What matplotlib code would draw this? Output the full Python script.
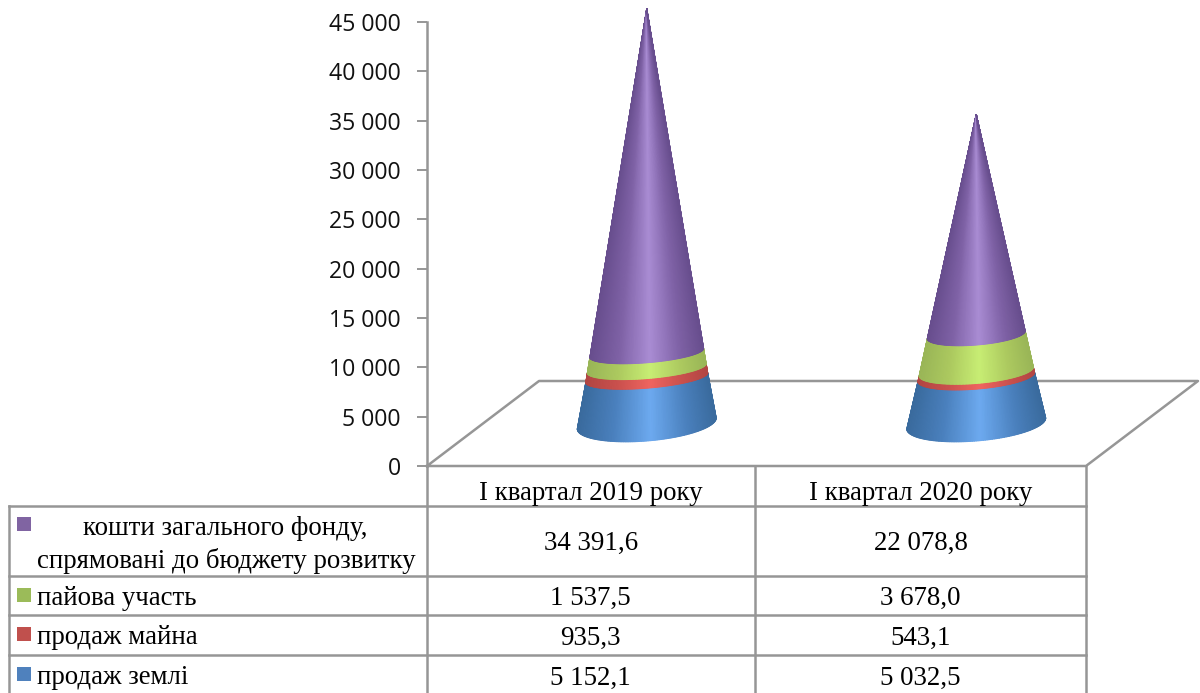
import numpy as np
import matplotlib
matplotlib.use('Agg')
import matplotlib.pyplot as plt
from matplotlib.colors import LinearSegmentedColormap

# values, thousand UAH, bottom of the stack first
periods = ['І квартал 2019 року', 'І квартал 2020 року']
series_names = ['продаж землі', 'продаж майна', 'пайова участь',
                'кошти загального фонду,\nспрямовані до бюджету розвитку']
land = [5152.1, 5032.5]
property_sales = [935.3, 543.1]
share = [1537.5, 3678.0]
general_fund = [34391.6, 22078.8]
value_labels = [['5 152,1', '5 032,5'], ['935,3', '543,1'],
                ['1 537,5', '3 678,0'], ['34 391,6', '22 078,8']]
yticks = [0, 5000, 10000, 15000, 20000, 25000, 30000, 35000, 40000, 45000]
ytick_labels = ['0', '5 000', '10 000', '15 000', '20 000', '25 000',
                '30 000', '35 000', '40 000', '45 000']

series = [land, property_sales, share, general_fund]
swatches = ['#4f81bd', '#c0504d', '#9bbb59', '#8064a2']
# edge, mid and highlight colour of each band
shades = [('#3a6b9e', '#4a80bd', '#6daaf0'),
          ('#b24643', '#c9504d', '#f06560'),
          ('#9ab657', '#acc95f', '#c8ee74'),
          ('#684e8e', '#7f62a6', '#aa8dd4')]

W, H = 1200, 693
GREY = '#969696'
fig = plt.figure(figsize=(W / 100, H / 100), dpi=100)

# plot box in pixels
x0, x1 = 427, 1086
y0, y1 = 466, 22
ax = fig.add_axes([x0 / W, 1 - y0 / H, (x1 - x0) / W, (y0 - y1) / H])
ax.set_xlim(0, 2)
ax.set_ylim(0, 45000)
ax.patch.set_visible(False)
for s in ['top', 'right', 'bottom']:
    ax.spines[s].set_visible(False)
ax.spines['left'].set_color(GREY)
ax.spines['left'].set_linewidth(1.8)
ax.set_xticks([])
ax.set_yticks(yticks)
ax.set_yticklabels(ytick_labels, family='Open Sans', fontsize=16.6, color='#111111')
ax.tick_params(axis='y', length=7, width=1.4, color=GREY, pad=12)

px_x = 2 / (x1 - x0)       # axis units per pixel
px_y = 45000 / (y0 - y1)
depth_x, depth_y = 112 * px_x, 85 * px_y

# floor
fx = [0, depth_x, 2 + depth_x, 2, 0]
fy = [0, depth_y, depth_y, 0, 0]
ax.plot(fx, fy, color=GREY, lw=1.8, clip_on=False, zorder=1)


def cone_points(total, level, theta, seam_b, drop):
    f = 1 - level / total
    u = np.cos(theta)
    x = 69.5 * f * u * px_x
    tilt = 5.5 * f * u
    if level == 0:
        down = 17.5 * np.sin(theta)
        y = tilt - down
    else:
        y = tilt - seam_b * f * np.sin(theta) - drop * f
    return x, level + y * px_y


theta = np.linspace(np.pi, 0, 121)
seam_sizes = [(12, 5.7), (14.5, 3.7)]
for i in range(len(periods)):
    total = sum(s[i] for s in series)
    cx = i + 0.5 + depth_x / 2 - px_x
    base = depth_y / 2
    level = 0
    for s, shade in zip(series, shades):
        top = level + s[i]
        xa, ya = cone_points(total, level, theta, *seam_sizes[i])
        xb, yb = cone_points(total, top, theta, *seam_sizes[i])
        X = np.vstack([xa, xb]) + cx
        Y = np.vstack([ya, yb]) + base
        C = np.vstack([np.cos(theta), np.cos(theta)])
        cmap = LinearSegmentedColormap.from_list(
            'band', [(0, shade[0]), (0.25, shade[1]), (0.53, shade[2]), (0.8, shade[1]), (1, shade[0])])
        ax.pcolormesh(X, Y, C, cmap=cmap, vmin=-1, vmax=1, shading='gouraud',
                      clip_on=False, zorder=3, rasterized=True)
        level = top

# table drawn on a pixel overlay
tab = fig.add_axes([0, 0, 1, 1])
tab.set_xlim(0, W)
tab.set_ylim(H, 0)
tab.axis('off')
tab.patch.set_visible(False)

row_edges = [505.5, 576, 615, 655, 695]
col_edges = [426.5, 755, 1086]
lw = 1.8
tab.plot([x0, x0], [y0, H], color=GREY, lw=lw)
tab.plot([755, 755], [y0, H], color=GREY, lw=lw)
tab.plot([1086, 1086], [y0, H], color=GREY, lw=lw)
tab.plot([8.5, 8.5], [505.5, H], color=GREY, lw=lw)
for r in row_edges[:-1]:
    tab.plot([8.5, 1086], [r, r], color=GREY, lw=lw)

serif = dict(family='Liberation Serif', fontsize=19.35, color='black')
for c, name in enumerate(periods):
    tab.text((col_edges[c] + col_edges[c + 1]) / 2, 493, name, ha='center', va='center', **serif)

# rows run top to bottom, the reverse of the stack
for r, k in enumerate(range(len(series) - 1, -1, -1)):
    ym = (row_edges[r] + row_edges[r + 1]) / 2
    sw_y = row_edges[r] + 11.5 if r == 0 else ym - 8
    tab.add_patch(plt.Rectangle((17, sw_y), 14, 14, color=swatches[k], lw=0))
    if r == 0:
        first, second = series_names[k].split('\n')
        tab.text(225, 528.5, first, ha='center', va='center', **serif)
        tab.text(37, 561, second, ha='left', va='center', **serif)
    else:
        tab.text(37, ym + 3, series_names[k], ha='left', va='center', **serif)
    for c in range(2):
        tab.text((col_edges[c] + col_edges[c + 1]) / 2, ym + 3, value_labels[k][c],
                 ha='center', va='center', **serif)

fig.savefig('out.png', dpi=100)
